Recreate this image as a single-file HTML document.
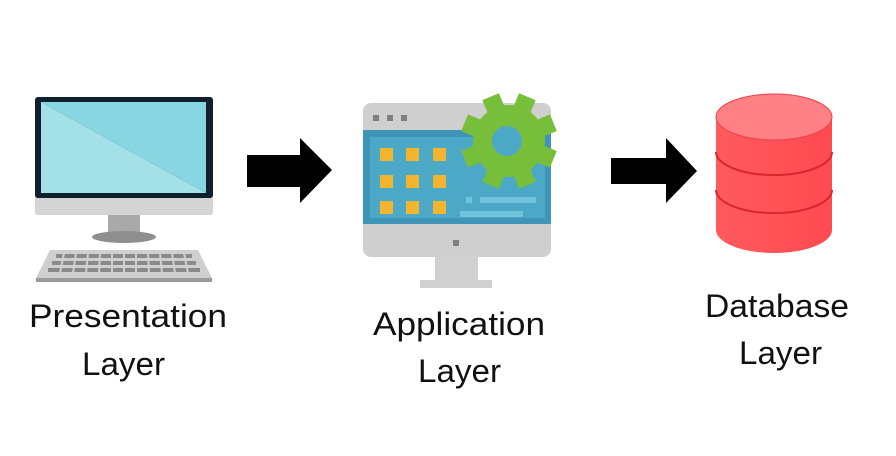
<!DOCTYPE html>
<html><head><meta charset="utf-8"><style>
html,body{margin:0;padding:0;background:#fff;}
svg{display:block;}
text{font-family:"Liberation Sans",sans-serif;font-size:32px;fill:#111;}
</style></head><body>
<svg width="896" height="456" viewBox="0 0 896 456" xmlns="http://www.w3.org/2000/svg">
<defs>
<linearGradient id="cyl" x1="0" x2="1"><stop offset="0" stop-color="#ff5a5e"/><stop offset="1" stop-color="#ff4a50"/></linearGradient>
</defs>
<!-- Presentation monitor -->
<rect x="35" y="97" width="178" height="118" rx="3" fill="#d4d4d4"/>
<rect x="35" y="97" width="178" height="101" rx="3" fill="#10202e"/>
<polygon points="41,102 206,102 206,193" fill="#88d6e2"/>
<polygon points="41,102 206,193 41,193" fill="#a3e0e8"/>
<rect x="108" y="215" width="32" height="18" fill="#a9a9a9"/>
<ellipse cx="124" cy="237" rx="32" ry="6" fill="#8f8f8f"/>
<polygon points="50,250 198,250 212,278 36,278" fill="#cfcfcf"/>
<rect x="36" y="278" width="176" height="4" fill="#9a9a9a"/>
<g fill="#8a8a8a">
<rect x="56" y="254" width="136" height="4"/>
<rect x="52" y="261" width="144" height="4"/>
<rect x="48" y="268" width="152" height="4"/>
</g>
<g stroke="#cfcfcf" stroke-width="2">
<line x1="64" y1="253" x2="60" y2="273"/><line x1="76" y1="253" x2="73" y2="273"/><line x1="88" y1="253" x2="86" y2="273"/><line x1="100" y1="253" x2="99" y2="273"/><line x1="112" y1="253" x2="112" y2="273"/><line x1="124" y1="253" x2="124" y2="273"/><line x1="136" y1="253" x2="136" y2="273"/><line x1="148" y1="253" x2="149" y2="273"/><line x1="160" y1="253" x2="162" y2="273"/><line x1="172" y1="253" x2="175" y2="273"/><line x1="184" y1="253" x2="188" y2="273"/>
</g>
<!-- arrows -->
<polygon points="247,155 300,155 300,138 332,170 300,203 300,187 247,187" fill="#000"/>
<polygon points="611,158 666,158 666,138 697,171 666,203 666,184 611,184" fill="#000"/>
<!-- Application monitor -->
<rect x="435" y="257" width="43" height="24" fill="#d0d0d0"/>
<rect x="420" y="280" width="72" height="8" fill="#d0d0d0"/>
<rect x="363" y="103" width="188" height="154" rx="8" fill="#cfcfcf"/>
<rect x="363" y="130" width="188" height="94" fill="#3e95b8"/>
<rect x="370" y="137" width="175" height="81" fill="#4ba8c6"/>
<g fill="#808080"><rect x="373" y="115" width="6" height="6"/><rect x="387" y="115" width="6" height="6"/><rect x="401" y="115" width="6" height="6"/></g>
<rect x="453" y="240" width="6" height="6" fill="#808080"/>
<g fill="#f4b52e">
<rect x="380" y="148" width="13" height="13"/><rect x="406" y="148" width="13" height="13"/><rect x="433" y="148" width="13" height="13"/>
<rect x="380" y="175" width="13" height="13"/><rect x="406" y="175" width="13" height="13"/><rect x="433" y="175" width="13" height="13"/>
<rect x="380" y="201" width="13" height="13"/><rect x="406" y="201" width="13" height="13"/><rect x="433" y="201" width="13" height="13"/>
</g>
<g fill="#6fc3da"><rect x="466" y="197" width="6" height="6"/><rect x="480" y="197" width="56" height="6"/><rect x="460" y="211" width="63" height="6"/></g>
<g transform="translate(509,141) rotate(22.5)" fill="#77bf3a">
<circle r="36"/>
<rect x="-9" y="-48" width="18" height="96"/>
<rect x="-9" y="-48" width="18" height="96" transform="rotate(45)"/>
<rect x="-9" y="-48" width="18" height="96" transform="rotate(90)"/>
<rect x="-9" y="-48" width="18" height="96" transform="rotate(135)"/>
</g>
<circle cx="507" cy="141" r="15" fill="#4ba8c6"/>
<!-- cylinder -->
<path d="M716,117 L716,230 A58,23 0 0 0 832,230 L832,117 Z" fill="url(#cyl)"/>
<path d="M716,152 A58,23 0 0 0 832,152 M716,190 A58,23 0 0 0 832,190" fill="none" stroke="#d8262c" stroke-width="2"/>
<ellipse cx="774" cy="117" rx="58" ry="23" fill="#ff8085" stroke="#ee4048" stroke-width="1"/>
<!-- labels -->
<text x="29" y="327" textLength="198" lengthAdjust="spacingAndGlyphs">Presentation</text>
<text x="82" y="375" textLength="83" lengthAdjust="spacingAndGlyphs">Layer</text>
<text x="373" y="335" textLength="172" lengthAdjust="spacingAndGlyphs">Application</text>
<text x="418" y="382" textLength="83" lengthAdjust="spacingAndGlyphs">Layer</text>
<text x="705" y="317" textLength="144" lengthAdjust="spacingAndGlyphs">Database</text>
<text x="739" y="364" textLength="83" lengthAdjust="spacingAndGlyphs">Layer</text>
</svg>
</body></html>
